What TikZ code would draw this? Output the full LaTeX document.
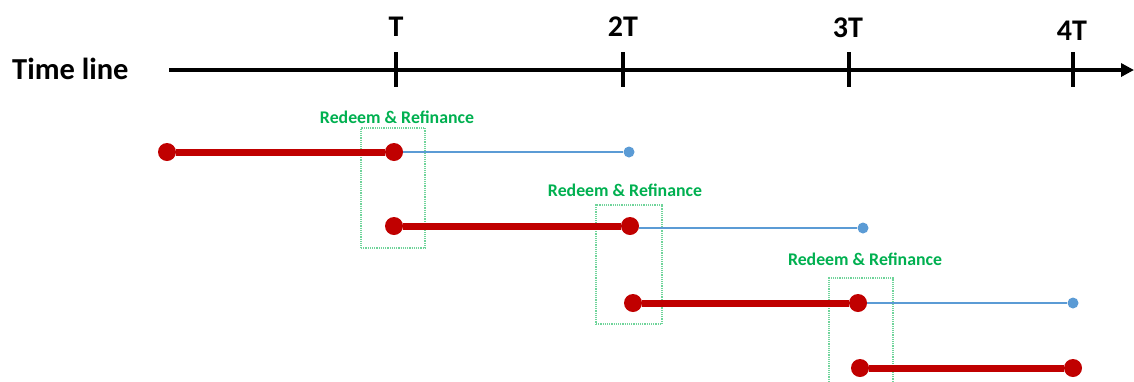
\documentclass[tikz,border=0pt]{standalone}
\usepackage{fontspec}
\setmainfont{Carlito}
\usetikzlibrary{arrows.meta}
\definecolor{dred}{HTML}{C00000}
\definecolor{lblue}{HTML}{5B9BD5}
\definecolor{rgreen}{HTML}{00B050}
\definecolor{boxgreen}{HTML}{6FD49A}
\begin{document}
\begin{tikzpicture}[x=1pt,y=-1pt,
  axisline/.style={line width=4.5pt,black,-{Triangle[length=13pt,width=13pt]}},
  tickline/.style={line width=4.5pt,black},
  ticklab/.style={anchor=base,font=\bfseries\fontsize{30}{30}\selectfont,inner sep=0pt},
  titlelab/.style={anchor=base west,font=\bfseries\fontsize{30.5}{30.5}\selectfont,inner sep=0pt},
  reddot/.style={circle,fill=dred,inner sep=0pt,minimum size=18pt},
  bluedot/.style={circle,fill=lblue,inner sep=0pt,minimum size=11pt},
  redline/.style={line width=7pt,dred},
  blueline/.style={line width=2pt,lblue},
  rbox/.style={draw=boxgreen,line width=1.2pt,densely dotted,inner sep=0pt},
  rlab/.style={font=\bfseries\fontsize{17.8}{17.8}\selectfont,text=rgreen,inner sep=0pt}
]
\useasboundingbox (0,0) rectangle (1134,381);
\clip (0,0) rectangle (1134,381);

% time line
\node[titlelab] (title) at (12,79) {Time line};
\coordinate (ax0) at (169,70);
\coordinate (ax1) at (1134,70);
\draw[axisline] (ax0) -- (ax1);
\foreach \n/\x in {1/396,2/623,3/849,4/1073}{
  \coordinate (tk\n a) at (\x,52);
  \coordinate (tk\n b) at (\x,87);
  \draw[tickline] (tk\n a) -- (tk\n b);
}
\node[ticklab] (lab1) at (396,36) {T};
\node[ticklab] (lab2) at (623,36) {2T};
\node[ticklab] (lab3) at (848,37) {3T};
\node[ticklab] (lab4) at (1072,40) {4T};

% green boxes
\node[rbox,minimum width=64pt,minimum height=120pt] (box1) at (393,188) {};
\node[rbox,minimum width=66pt,minimum height=119pt] (box2) at (629,264.5) {};
\node[rbox,minimum width=64pt,minimum height=130pt] (box3) at (861,343) {};
\node[rlab] (rl1) at (397,117) {Redeem \& Refinance};
\node[rlab] (rl2) at (625,190) {Redeem \& Refinance};
\node[rlab] (rl3) at (865,259) {Redeem \& Refinance};

% row 1
\node[reddot] (r1a) at (167,152) {};
\node[reddot] (r1b) at (394,152) {};
\node[bluedot] (b1) at (629,152) {};
\draw[redline] (r1a) -- (r1b);
\draw[blueline] (r1b) -- (b1);

% row 2
\node[reddot] (r2a) at (394,226) {};
\node[reddot] (r2b) at (630,226) {};
\node[bluedot] (b2) at (863,228) {};
\draw[redline] (r2a) -- (r2b);
\draw[blueline] (r2b.east |- b2) -- (b2);

% row 3
\node[reddot] (r3a) at (633,303) {};
\node[reddot] (r3b) at (858,303) {};
\node[bluedot] (b3) at (1073,303) {};
\draw[redline] (r3a) -- (r3b);
\draw[blueline] (r3b) -- (b3);

% row 4
\node[reddot] (r4a) at (860,368) {};
\node[reddot] (r4b) at (1073,368) {};
\draw[redline] (r4a) -- (r4b);
\end{tikzpicture}
\end{document}
